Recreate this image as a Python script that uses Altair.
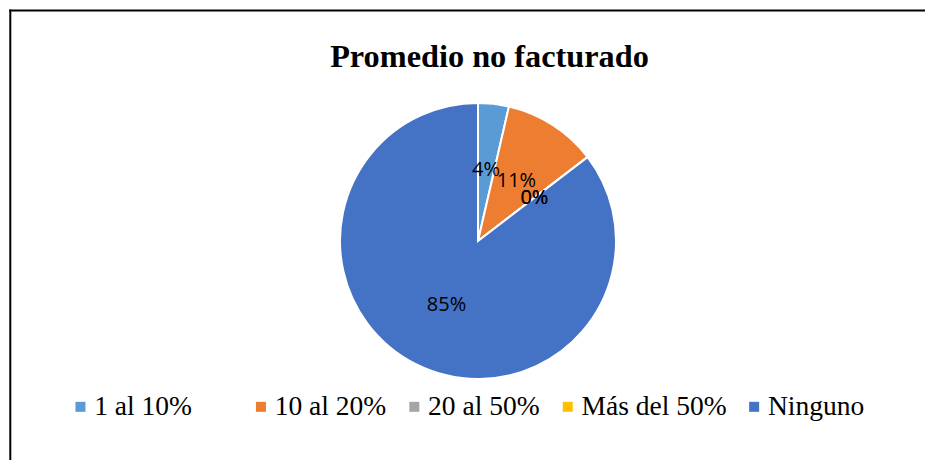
import altair as alt
import pandas as pd

title_text = "Promedio no facturado"
categories = ["1 al 10%", "10 al 20%", "20 al 50%", "Más del 50%", "Ninguno"]
values = [3.6, 11.0, 0.0, 0.0, 85.4]
labels = ["4%", "11%", "0%", "0%", "85%"]
colors = ["#5B9BD5", "#ED7D31", "#A5A5A5", "#FFC000", "#4472C4"]

df = pd.DataFrame({
    "categoria": categories,
    "valor": values,
    "etiqueta": labels,
    "idx": list(range(len(categories))),
})
total = float(sum(values))

W, H = 917, 452
CX, CY, R = 470, 233, 138
theta_scale = alt.Scale(domain=[0, total])

base = alt.Chart(df).transform_window(
    cum="sum(valor)", sort=[alt.SortField("idx")], frame=[None, 0]
).transform_calculate(
    start="datum.cum - datum.valor",
    mid="datum.cum - datum.valor / 2",
)


def legend_props(x, pad):
    return dict(
        orient="none", legendX=x, legendY=384.7, direction="horizontal",
        columns=5, gridAlign="each", columnPadding=pad,
        symbolType="square", symbolSize=100, symbolStrokeWidth=0,
        labelFont="Liberation Serif", labelFontSize=27.5, labelColor="#000000",
        labelOffset=0, labelLimit=0, title=None, padding=0,
    )


def pie_part(cats, cols, legend_x, pad):
    return base.transform_filter(
        alt.FieldOneOfPredicate(field="categoria", oneOf=cats)
    ).mark_arc(stroke="#ffffff", strokeWidth=2, outerRadius=R).encode(
        x=alt.value(CX),
        y=alt.value(CY),
        theta=alt.Theta("start:Q", scale=theta_scale),
        theta2="cum:Q",
        color=alt.Color(
            "categoria:N",
            scale=alt.Scale(domain=cats, range=cols),
            sort=cats,
            legend=alt.Legend(**legend_props(legend_x, pad)),
        ),
    )


pie_a = pie_part(categories[:1], colors[:1], 58.7, 0)
pie_b = pie_part(categories[1:], colors[1:], 239.2, 13.4)

text = base.mark_text(
    radius=71, font="Open Sans", fontSize=20, color="#000000",
    align="center", baseline="middle",
).encode(
    x=alt.value(CX),
    y=alt.value(CY),
    theta=alt.Theta("mid:Q", scale=theta_scale),
    text="etiqueta:N",
)

title = alt.Chart(alt.Data(values=[{"t": title_text}])).mark_text(
    font="Liberation Serif", fontSize=32.3, fontWeight="bold", color="#000000",
    align="center", baseline="alphabetic",
).encode(x=alt.value(481.5), y=alt.value(59), text="t:N")

frame_data = alt.Data(values=[{"b": 1}])
border_left = alt.Chart(frame_data).mark_rule(color="#000000", strokeWidth=2).encode(
    x=alt.value(2.3), y=alt.value(1.5), y2=alt.value(H + 20)
)
border_top = alt.Chart(frame_data).mark_rule(color="#000000", strokeWidth=2).encode(
    y=alt.value(2.5), x=alt.value(1.3), x2=alt.value(W + 20)
)

chart = alt.layer(border_left, border_top, pie_a, pie_b, text, title).resolve_scale(
    color="independent"
).properties(
    width=W, height=H,
    autosize=alt.AutoSizeParams(type="none"),
    padding=0,
).configure_view(stroke="transparent", strokeWidth=0)

chart.save("out.html", embed_options={"renderer": "svg", "actions": False})
